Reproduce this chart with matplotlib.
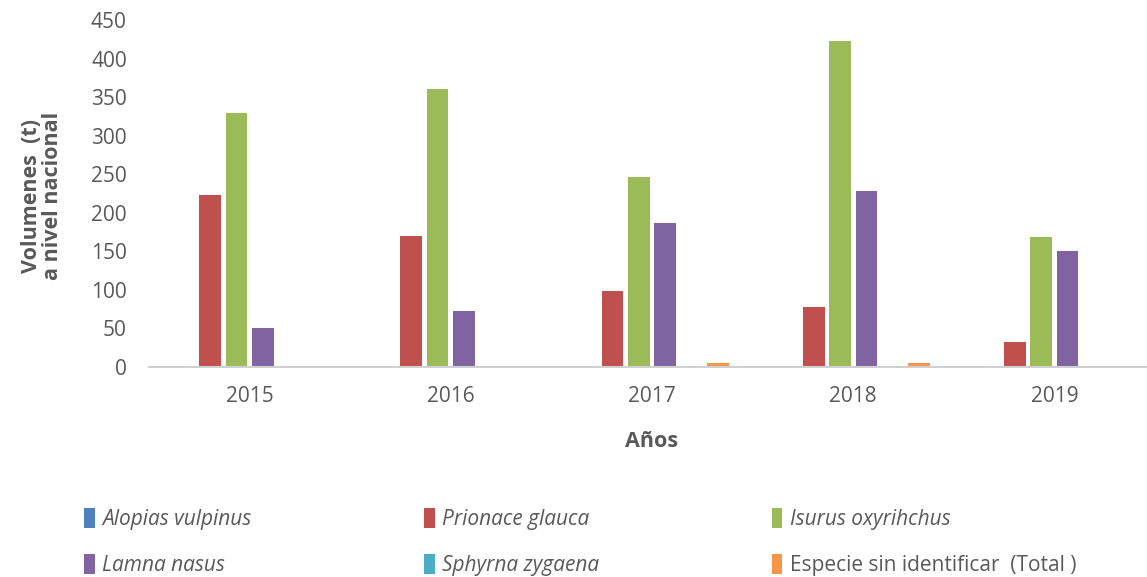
import matplotlib
matplotlib.use("Agg")
import matplotlib.pyplot as plt
import numpy as np

plt.rcParams['font.family'] = ['Open Sans', 'DejaVu Sans']

years = ['2015', '2016', '2017', '2018', '2019']
species = ['Alopias vulpinus', 'Prionace glauca', 'Isurus oxyrihchus',
           'Lamna nasus', 'Sphyrna zygaena', 'Especie sin identificar  (Total )']
alopias = [0, 0, 0, 0, 0]
prionace = [223, 170, 98, 78, 32]
isurus = [329, 361, 246, 423, 168]
lamna = [51, 73, 187, 228, 151]
sphyrna = [0, 0, 0, 0, 0]
sin_id = [0, 0, 5, 5, 0]
colors = ['#4F81BD', '#C0504D', '#9BBB59', '#8064A2', '#4BACC6', '#F79646']

series = [alopias, prionace, isurus, lamna, sphyrna, sin_id]
gray = '#595959'

fig = plt.figure(figsize=(11.47, 5.77), dpi=100)
ax = fig.add_axes([149 / 1147, 210 / 577, 1006 / 1147, 347 / 577])

x = np.arange(len(years))
step = 0.131
width = 0.108
handles = []
for i, (vals, name, col) in enumerate(zip(series, species, colors)):
    b = ax.bar(x + (i - 2.5) * step, vals, width, color=col, label=name,
               edgecolor='white', linewidth=0)
    handles.append(b)

ax.set_xlim(-0.5, 4.5)
ax.set_ylim(0, 450)
ax.set_yticks(range(0, 451, 50))
ax.set_xticks(x)
ax.set_xticklabels(years)
ax.tick_params(axis='both', length=0, labelsize=15, colors=gray)
ax.tick_params(axis='x', pad=14)
ax.tick_params(axis='y', pad=16)
for s in ['top', 'right', 'left']:
    ax.spines[s].set_visible(False)
ax.spines['bottom'].set_color('#D0D0D0')
ax.spines['bottom'].set_linewidth(1.5)

ax.set_xlabel('Años', fontsize=15.5, fontweight='bold', color=gray, labelpad=17)
fig.text(42 / 1147, 1 - 196 / 577, 'Volumenes  (t)\na nivel nacional', rotation=90,
         ha='center', va='center', fontsize=15.5, fontweight='bold', color=gray,
         linespacing=1.0)

order = [0, 3, 1, 4, 2, 5]
leg = fig.legend([handles[k] for k in order], [species[k] for k in order],
                 ncol=3, loc='upper left', bbox_to_anchor=(76 / 1147, 1 - 500 / 577),
                 frameon=False, fontsize=15, handlelength=0.5, handleheight=1.1,
                 handletextpad=0.35, columnspacing=8.3, labelspacing=1.15,
                 borderaxespad=0)
for t in leg.get_texts():
    t.set_color(gray)
    if not t.get_text().startswith('Especie'):
        t.set_fontstyle('italic')

fig.savefig('out.png', dpi=100)
